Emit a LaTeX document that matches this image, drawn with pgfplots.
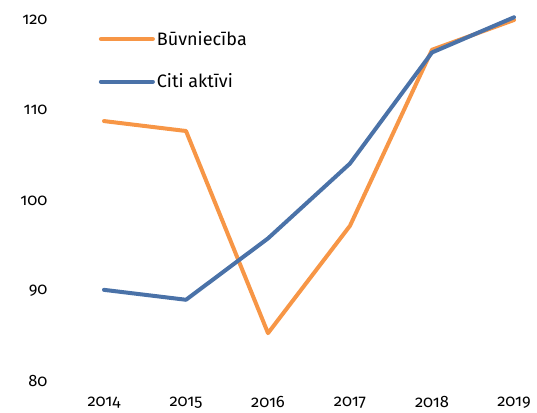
\documentclass[border=0pt]{standalone}
\usepackage{fontspec}
\setmainfont[Numbers=OldStyle]{Fira Sans}
\usepackage{pgfplots}
\pgfplotsset{compat=1.18}
\definecolor{corange}{HTML}{F79646}
\definecolor{cblue}{HTML}{4A72A8}
\begin{document}
\begin{tikzpicture}[x=1pt,y=1pt]
\begin{axis}[
  at={(63pt,31pt)}, anchor=south west,
  scale only axis, width=475.6pt, height=361pt,
  xmin=2013.5, xmax=2019.3, ymin=80, ymax=120,
  clip=false,
  axis line style={draw=none}, tick style={draw=none},
  xtick={2014,2015,2016,2017,2018,2019},
  xticklabels={2014,2015,2016,2017,2018,2019},
  ytick={80,90,100,110,120},
  yticklabels={80,90,100,110,120},
  ticklabel style={font=\fontsize{16.5}{19}\selectfont, text=black},
  yticklabel style={xshift=-12pt},
  xticklabel style={yshift=-12pt},
  legend style={draw=none, fill=none, at={(0.075,0.975)}, anchor=north west,
    font=\fontsize{18}{21}\selectfont, row sep=23pt, inner sep=0pt},
  legend cell align=left,
  legend image code/.code={\draw[#1, line width=4pt, line cap=round] (0pt,0pt) -- (52pt,0pt);},
]
\addplot[corange, line width=4pt, line join=round, line cap=round] coordinates {
 (2014,108.8) (2015,107.7) (2016,85.3) (2017,97.2) (2018,116.7) (2019,120.0)};
\addlegendentry{Būvniecība}
\addplot[cblue, line width=4pt, line join=round, line cap=round] coordinates {
 (2014,90.1) (2015,89.0) (2016,95.8) (2017,104.1) (2018,116.4) (2019,120.3)};
\addlegendentry{Citi aktīvi}
\end{axis}
\pgfresetboundingbox
\useasboundingbox (0,0) rectangle (537pt,412pt);
\end{tikzpicture}
\end{document}
